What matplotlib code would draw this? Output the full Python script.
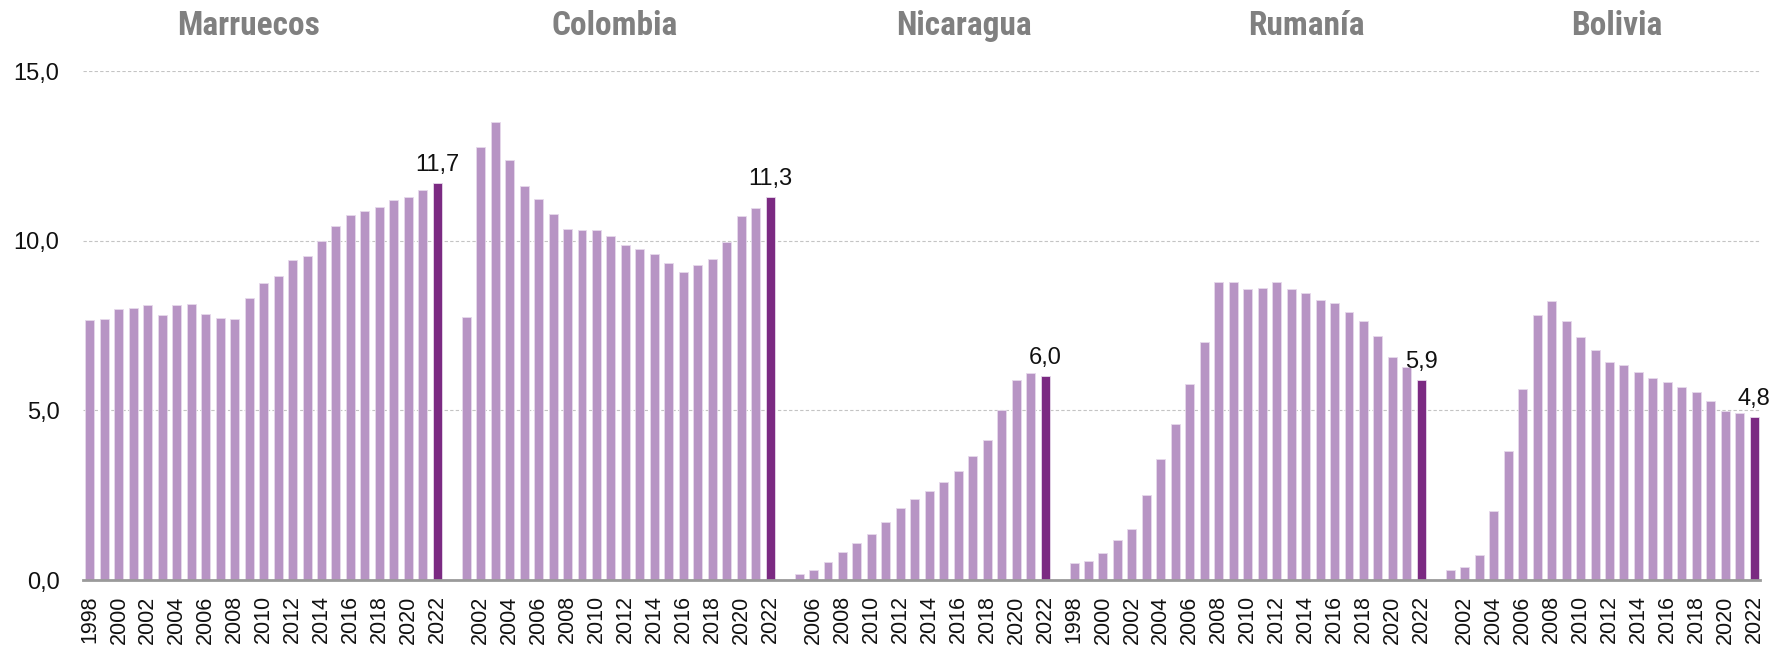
import matplotlib
matplotlib.use("Agg")
import matplotlib.pyplot as plt
from matplotlib import font_manager
from matplotlib.font_manager import FontProperties

# ---------------- data ----------------
countries = ["Marruecos", "Colombia", "Nicaragua", "Rumanía", "Bolivia"]
start_years = [1998, 2001, 2005, 1998, 2001]
end_year = 2022

marruecos = [7.65, 7.70, 7.98, 8.01, 8.10, 7.81, 8.10, 8.12, 7.83, 7.71, 7.69,
             8.31, 8.76, 8.95, 9.42, 9.54, 9.99, 10.44, 10.75, 10.87, 11.00,
             11.20, 11.29, 11.50, 11.7]
colombia = [7.76, 12.76, 13.49, 12.39, 11.61, 11.23, 10.80, 10.35, 10.32, 10.32,
            10.15, 9.86, 9.76, 9.61, 9.34, 9.08, 9.27, 9.45, 9.96, 10.73, 10.97, 11.3]
nicaragua = [0.18, 0.28, 0.53, 0.83, 1.09, 1.37, 1.71, 2.11, 2.39, 2.61, 2.89,
             3.22, 3.66, 4.14, 5.02, 5.88, 6.10, 6.0]
rumania = [0.49, 0.55, 0.80, 1.17, 1.51, 2.50, 3.56, 4.61, 5.79, 7.01, 8.78,
           8.77, 8.59, 8.61, 8.79, 8.59, 8.45, 8.26, 8.17, 7.91, 7.64, 7.18,
           6.58, 6.27, 5.9]
bolivia = [0.28, 0.39, 0.74, 2.04, 3.79, 5.62, 7.81, 8.21, 7.64, 7.16, 6.78,
           6.41, 6.33, 6.14, 5.96, 5.84, 5.70, 5.54, 5.27, 4.99, 4.91, 4.8]
series = [marruecos, colombia, nicaragua, rumania, bolivia]

y_ticks = [0, 5, 10, 15]
y_tick_labels = ["0,0", "5,0", "10,0", "15,0"]

# title centres as figure fractions
title_x = [0.1404, 0.3469, 0.5437, 0.7366, 0.912]

# ---------------- style ----------------
LIGHT = "#b794c4"
DARK = "#7b2a82"
GREY_TITLE = "#808080"

names = {f.name for f in font_manager.fontManager.ttflist}
base_family = "Liberation Sans" if "Liberation Sans" in names else "DejaVu Sans"
plt.rcParams["font.family"] = [base_family, "DejaVu Sans"]

title_fp = None
candidates = [("RobotoCondensed-Black.", 24), ("RobotoCondensed-ExtraBold.", 24),
              ("LiberationSansNarrow-Bold.", 24), ("RobotoCondensed-Bold.", 24),
              ("OpenSans_Condensed-ExtraBold.", 24), ("OpenSans_Condensed-Bold.", 24),
              ("OpenSans-CondensedBold.", 24),
              ("DejaVuSansCondensed-Bold.", 22), ("Roboto-Black.", 20.5),
              ("Roboto-Bold.", 20.5)]
for pat, sz in candidates:
    for f in font_manager.fontManager.ttflist:
        if f.fname.split("/")[-1].startswith(pat):
            title_fp = FontProperties(fname=f.fname, size=sz)
            break
    if title_fp is not None:
        break
if title_fp is None:
    title_fp = FontProperties(family=base_family, weight="bold", size=21)

fig = plt.figure(figsize=(17.73, 6.46), dpi=100)
ax = fig.add_axes([83 / 1773, 1 - 580 / 646, (1760 - 83) / 1773, (580 - 71) / 646])

pos = 0
tick_pos, tick_lab = [], []
for name, sy, vals in zip(countries, start_years, series):
    years = list(range(sy, end_year + 1))
    xs = list(range(pos, pos + len(years)))
    colors = [LIGHT] * (len(years) - 1) + [DARK]
    ax.bar(xs, vals, width=0.62, color=colors, edgecolor="#e6d9eb",
           linewidth=0.6, zorder=3)
    for x, yr in zip(xs, years):
        if yr % 2 == 0:
            tick_pos.append(x)
            tick_lab.append(str(yr))
    ax.annotate(f"{vals[-1]:.1f}".replace(".", ","), (xs[-1], vals[-1]),
                xytext=(0, 5), textcoords="offset points", ha="center",
                va="bottom", fontsize=17, color="#111111", annotation_clip=False)
    last = xs[-1]
    pos += len(years) + 1

ax.set_xlim(-0.48, last + 0.4)
ax.set_ylim(0, 15)
ax.set_yticks(y_ticks)
ax.set_yticklabels(y_tick_labels, fontsize=17, color="#111111")
ax.set_xticks(tick_pos)
ax.set_xticklabels(tick_lab, rotation=90, fontsize=15.5, color="#111111")
ax.tick_params(axis="both", length=0)
ax.tick_params(axis="y", pad=17)
ax.tick_params(axis="x", pad=11)

ax.grid(axis="y", color="#c4c4c4", linestyle=(0, (3, 2)), linewidth=0.8, zorder=0)
for sp in ["top", "right", "left"]:
    ax.spines[sp].set_visible(False)
ax.spines["bottom"].set_color("#9a9a9a")
ax.spines["bottom"].set_linewidth(2)
ax.spines["bottom"].set_zorder(4)

for name, tx in zip(countries, title_x):
    fig.text(tx, 1 - 26 / 646, name, ha="center", va="center",
             fontproperties=title_fp, color=GREY_TITLE)

fig.savefig("out.png", dpi=100)
